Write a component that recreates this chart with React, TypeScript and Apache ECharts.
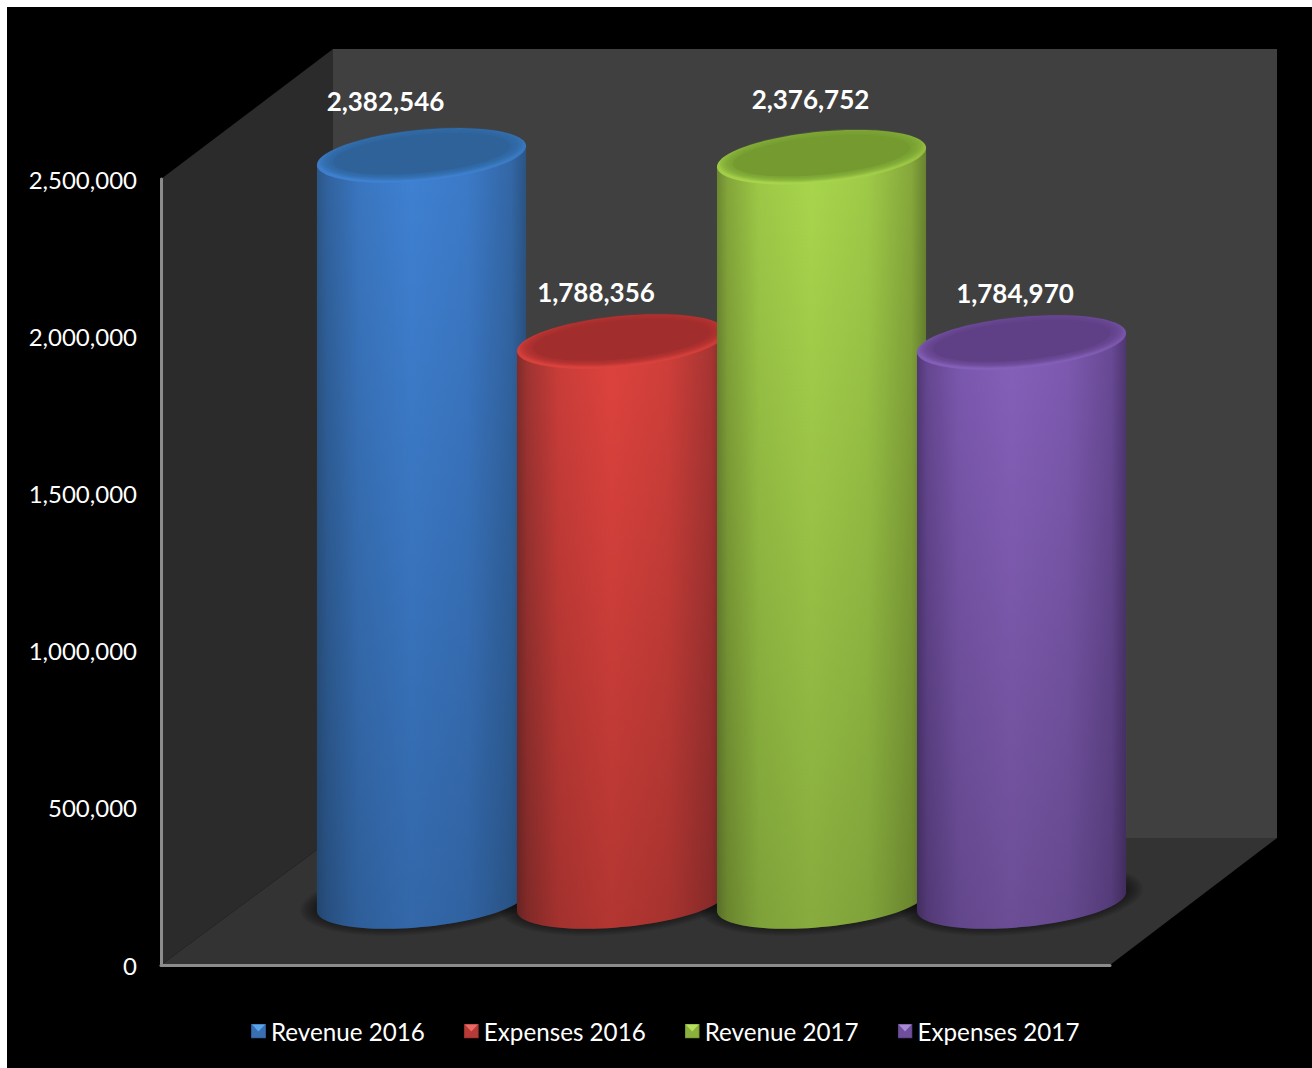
import React, { useEffect, useRef } from "react";
import * as echarts from "echarts";

// Chart values
const categories = [""];
const seriesNames = ["Revenue 2016", "Expenses 2016", "Revenue 2017", "Expenses 2017"];
const revenue2016 = [2382546];
const expenses2016 = [1788356];
const revenue2017 = [2376752];
const expenses2017 = [1784970];
const seriesValues = [revenue2016, expenses2016, revenue2017, expenses2017];

// Fake-3D layout of the plot box, in pixels
const DEPTH_X = 172;
const DEPTH_Y = 127;
const SPACING = 200;
const RX = 105;
const RY = 25.5;
const TILT = (-5.5 * Math.PI) / 180;
const FORESHORTEN = 0.996;
const labelShiftX = [-36, -25.5, -11, -6.5];
const labelShiftY = [-54, -49.5, -58, -49.5];
const SOFT_STEPS = [0, 1, 2, 3, 4, 5, 6];

const FONT = "Lato, Carlito, Calibri, sans-serif";

type Shade = {
  side: string[];
  face: string;
  rimTop: string;
  rimBottom: string;
  legendLight: string;
  legendBase: string;
  legendDark: string;
};

const shades: Shade[] = [
  {
    side: ["#2c5688", "#31639f", "#3a76c0", "#3f81d3", "#3c7ac8", "#3367a6", "#2b5484"],
    face: "#2e6299",
    rimTop: "#3570b0",
    rimBottom: "#3f82d2",
    legendLight: "#5aa5ea",
    legendBase: "#3a70b2",
    legendDark: "#2c5a94",
  },
  {
    side: ["#7f2c2a", "#a03432", "#cb3d39", "#df433e", "#d03f3a", "#a83533", "#7a2a28"],
    face: "#a12e2c",
    rimTop: "#bc3532",
    rimBottom: "#dc423d",
    legendLight: "#ea6a66",
    legendBase: "#b53a38",
    legendDark: "#94302e",
  },
  {
    side: ["#6c8832", "#84a63a", "#9dc947", "#a9d64d", "#9fcb48", "#86a83b", "#688330"],
    face: "#749a30",
    rimTop: "#86ad37",
    rimBottom: "#a8d54c",
    legendLight: "#b8e060",
    legendBase: "#8cb03c",
    legendDark: "#6f8f2e",
  },
  {
    side: ["#513775", "#664792", "#7b58ae", "#8660ba", "#7d5ab0", "#684995", "#4f3671"],
    face: "#5f3f86",
    rimTop: "#6e4d9d",
    rimBottom: "#8661ba",
    legendLight: "#a68ad2",
    legendBase: "#6f4e9c",
    legendDark: "#573c80",
  },
];

const legendIcon = (s: Shade) =>
  "image://data:image/svg+xml;charset=utf-8," +
  encodeURIComponent(
    `<svg xmlns="http://www.w3.org/2000/svg" width="15" height="15">` +
      `<rect width="15" height="15" fill="${s.legendDark}"/>` +
      `<rect x="1" y="1" width="13" height="13" fill="${s.legendBase}"/>` +
      `<polygon points="1,1 14,1 7.5,8" fill="${s.legendLight}"/>` +
      `</svg>`
  );

// Point on the tilted ellipse that caps or bases a cylinder
const ringPoint = (cx: number, cy: number, rx: number, ry: number, t: number) => [
  cx + rx * Math.cos(t) * Math.cos(TILT) - ry * Math.sin(t) * Math.sin(TILT),
  cy + rx * Math.cos(t) * Math.sin(TILT) + ry * Math.sin(t) * Math.cos(TILT),
];

const ring = (cx: number, cy: number, rx: number, ry: number) => {
  const pts: number[][] = [];
  for (let k = 0; k < 96; k++) pts.push(ringPoint(cx, cy, rx, ry, (k / 96) * 2 * Math.PI));
  return pts;
};

const vertical = (top: string, bottom: string) =>
  new echarts.graphic.LinearGradient(0, 0, 0, 1, [
    { offset: 0, color: top },
    { offset: 1, color: bottom },
  ]);

const cylinderCenter = (bandCenter: number, index: number) =>
  bandCenter + DEPTH_X / 2 + (index - 1.5) * SPACING;

// Back wall, side wall, floor and the soft contact shadows under the cylinders
const renderBackdrop = (params: any, api: any) => {
  const left = params.coordSys.x;
  const width = params.coordSys.width;
  const [bandCenter, floorY] = api.coord([0, 0]);
  const topY = api.coord([0, 2500000])[1];
  const right = left + width;
  // Nested translucent ellipses follow the tilt and fade out at the outer edge
  const shadows = seriesValues.flatMap((_, i) =>
    SOFT_STEPS.map((step) => ({
      type: "polygon",
      shape: {
        points: ring(
          cylinderCenter(bandCenter, i),
          floorY - DEPTH_Y / 2 - 2,
          RX + 17 - step * 2.4,
          RY + 9 - step * 1.3
        ),
      },
      style: { fill: "rgba(0,0,0,0.07)" },
    }))
  );
  return {
    type: "group",
    children: [
      {
        type: "polygon",
        shape: {
          points: [
            [left + DEPTH_X, topY - DEPTH_Y - 3],
            [right + DEPTH_X - 5, topY - DEPTH_Y - 3],
            [right + DEPTH_X - 5, floorY - DEPTH_Y],
            [left + DEPTH_X, floorY - DEPTH_Y],
          ],
        },
        style: { fill: "#404040" },
      },
      {
        type: "polygon",
        shape: {
          points: [
            [left, topY],
            [left + DEPTH_X, topY - DEPTH_Y - 3],
            [left + DEPTH_X, floorY - DEPTH_Y],
            [left, floorY],
          ],
        },
        style: { fill: "#2b2b2b" },
      },
      {
        type: "polygon",
        shape: {
          points: [
            [left, floorY],
            [left + DEPTH_X, floorY - DEPTH_Y],
            [right + DEPTH_X - 5, floorY - DEPTH_Y],
            [right, floorY],
          ],
        },
        style: { fill: "#333333" },
      },
      ...shadows,
    ],
  };
};

// One cylinder: side surface, darkening toward the floor, rim, cap and value label
const renderCylinder = (index: number) => (_params: any, api: any) => {
  const value = api.value(1);
  const [bandCenter, top] = api.coord([0, value]);
  const floorY = api.coord([0, 0])[1];
  const cx = cylinderCenter(bandCenter, index);
  const baseY = floorY - DEPTH_Y / 2;
  const topY = baseY - (floorY - top) * FORESHORTEN;
  const shade = shades[index];

  const t0 = Math.atan2(-RY * Math.sin(TILT), RX * Math.cos(TILT));
  const body: number[][] = [ringPoint(cx, topY, RX, RY, t0 + Math.PI)];
  for (let k = 0; k <= 48; k++) {
    body.push(ringPoint(cx, baseY, RX, RY, t0 + Math.PI - (k / 48) * Math.PI));
  }
  body.push(ringPoint(cx, topY, RX, RY, t0));

  const offsets = [0, 0.05, 0.2, 0.45, 0.72, 0.93, 1];
  // Translucent steps blur the edge between the rim and the darker cap
  const capSteps = SOFT_STEPS.map((step) => ({
    type: "polygon",
    shape: { points: ring(cx, topY - 1.6, RX - 3 - step * 2.2, RY - 0.5 - step * 1) },
    style: { fill: shade.face, opacity: step === SOFT_STEPS.length - 1 ? 1 : 0.22 },
  }));
  return {
    type: "group",
    children: [
      {
        type: "polygon",
        shape: { points: body },
        style: {
          fill: new echarts.graphic.LinearGradient(
            0,
            0,
            1,
            0,
            shade.side.map((color, k) => ({ offset: offsets[k], color }))
          ),
        },
      },
      {
        type: "polygon",
        shape: { points: body },
        style: { fill: vertical("rgba(0,0,0,0)", "rgba(0,0,0,0.2)") },
      },
      {
        type: "polygon",
        shape: { points: ring(cx, topY, RX, RY) },
        style: { fill: vertical(shade.rimTop, shade.rimBottom) },
      },
      ...capSteps,
      {
        type: "text",
        style: {
          text: value.toLocaleString("en-US"),
          x: cx + labelShiftX[index],
          y: topY + labelShiftY[index],
          align: "center",
          verticalAlign: "middle",
          fill: "#ffffff",
          font: `bold 26px ${FONT}`,
        },
      },
    ],
  };
};

export default function App() {
  const ref = useRef<HTMLDivElement>(null);

  useEffect(() => {
    const chart = echarts.init(ref.current!, undefined, { renderer: "svg" });
    chart.setOption({
      animation: false,
      grid: { left: 161, top: 179, width: 949, height: 786, containLabel: false },
      xAxis: {
        type: "category",
        data: categories,
        axisLine: { show: true, lineStyle: { color: "#8c8c8c", width: 3 } },
        axisTick: { show: false },
        axisLabel: { show: false },
        splitLine: { show: false },
      },
      yAxis: {
        type: "value",
        min: 0,
        max: 2500000,
        interval: 500000,
        axisLine: { show: true, lineStyle: { color: "#8c8c8c", width: 3 } },
        axisTick: { show: false },
        splitLine: { show: false },
        axisLabel: {
          color: "#ffffff",
          fontFamily: FONT,
          fontSize: 24,
          margin: 24,
          formatter: (v: number) => v.toLocaleString("en-US"),
        },
      },
      legend: {
        left: 246,
        top: 1014,
        itemWidth: 15,
        itemHeight: 15,
        itemGap: 39,
        textStyle: { color: "#ffffff", fontFamily: FONT, fontSize: 24.2 },
        data: seriesNames.map((name, i) => ({ name, icon: legendIcon(shades[i]) })),
      },
      series: [
        {
          type: "custom",
          name: "backdrop",
          z: -1,
          silent: true,
          renderItem: renderBackdrop,
          data: [[0, 0]],
          encode: { x: 0, y: 1 },
        },
        ...seriesNames.map((name, i) => ({
          type: "custom",
          name,
          z: 3,
          renderItem: renderCylinder(i),
          itemStyle: { color: shades[i].legendBase },
          data: seriesValues[i].map((v, k) => [k, v]),
          encode: { x: 0, y: 1 },
        })),
      ],
    });
    return () => chart.dispose();
  }, []);

  return (
    <div style={{ position: "fixed", inset: 0, background: "#ffffff", overflow: "hidden" }}>
      <div style={{ position: "absolute", left: 7, top: 7, right: 0, bottom: 0, background: "#000000" }} />
      <div ref={ref} style={{ position: "absolute", left: 0, top: 0, width: 1312, height: 1068 }} />
    </div>
  );
}
